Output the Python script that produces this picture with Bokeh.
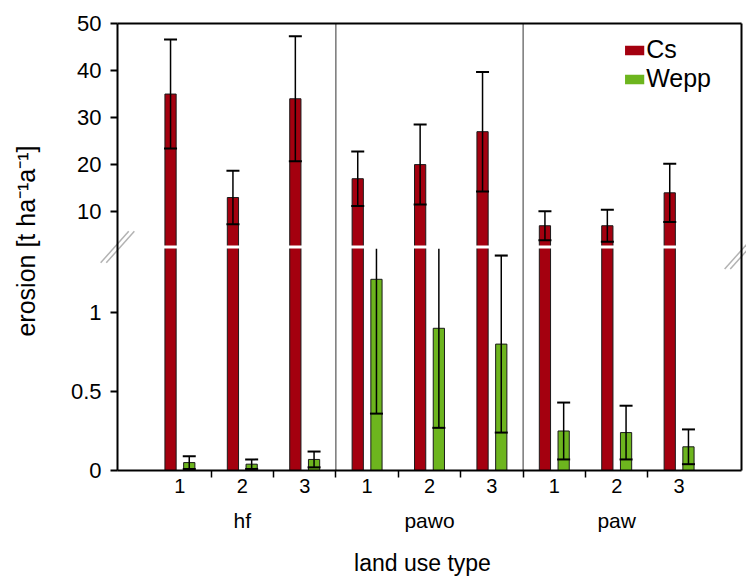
import numpy as np
from bokeh.plotting import figure
from bokeh.core.properties import value
from bokeh.models import (Range1d, LinearAxis, FixedTicker, PolyAnnotation, Label,
                          Legend, LegendItem)
from bokeh.embed import file_html
from bokeh.resources import INLINE

# land use types and the plots measured within each of them
land_use = ["hf", "pawo", "paw"]
plot_no = ["1", "2", "3"]

# mean erosion and standard deviation per plot [t ha-1 a-1]
cs_mean = [35.0, 13.0, 34.0, 17.0, 20.0, 27.0, 7.0, 7.0, 14.0]
cs_sd = [11.6, 5.7, 13.3, 5.8, 8.5, 12.7, 3.1, 3.4, 6.2]
wepp_mean = [0.05, 0.04, 0.07, 1.21, 0.90, 0.80, 0.25, 0.24, 0.15]
wepp_sd = [0.04, 0.03, 0.05, 0.85, 0.63, 0.56, 0.18, 0.17, 0.11]

low_ticks = [0, 0.5, 1]
high_ticks = [10, 20, 30, 40, 50]

RED = "#a4000f"
GREEN = "#6db51e"
FONT = "Liberation Sans"

# page layout (pixels): the plotting frame fills the page and every axis is
# pinned inside it, so labels and break marks can sit anywhere
W, H = 746, 578
SPINE_X, UNIT_X = 117, 62.4          # left spine position, width of one plot slot
ZERO_Y, LOW_TOP_Y = 470, 248         # lower segment: 0 .. LOW_MAX
HIGH_BOTTOM_Y, TOP_Y = 245, 23       # upper segment: HIGH_MIN .. HIGH_MAX

# broken y axis
LOW_MAX, HIGH_MIN, HIGH_MAX = 1.405, 2.8, 50.0
low_scale = (ZERO_Y - LOW_TOP_Y) / LOW_MAX
high_scale = (HIGH_BOTTOM_Y - TOP_Y) / (HIGH_MAX - HIGH_MIN)


def row(px):
    """Lower-segment value found at a given pixel row."""
    return (ZERO_Y - px) / low_scale


def to_low(v):
    """Express a value of the upper segment in lower-segment units."""
    return float(row(HIGH_BOTTOM_Y - (v - HIGH_MIN) * high_scale))


n = len(cs_mean)
idx = np.arange(n, dtype=float)
cs, cs_e = np.array(cs_mean), np.array(cs_sd)
wp, wp_e = np.array(wepp_mean), np.array(wepp_sd)

X0, X1 = -1.0, float(n)              # data area between the spines
p = figure(width=W, height=H, output_backend="svg", toolbar_location=None,
           x_range=Range1d(X0 - SPINE_X / UNIT_X, X0 + (W - SPINE_X) / UNIT_X),
           y_range=Range1d(row(H), row(0)),
           x_axis_type=None, y_axis_type=None,
           min_border_left=0, min_border_right=0, min_border_top=0, min_border_bottom=0)
p.extra_y_ranges = {"high": Range1d(HIGH_MIN - (H - HIGH_BOTTOM_Y) / high_scale,
                                    HIGH_MAX + TOP_Y / high_scale)}
p.outline_line_color = None
p.background_fill_color = "white"
p.border_fill_color = "white"

top_low = to_low(HIGH_MAX)
gap_low = (LOW_MAX + to_low(HIGH_MIN)) / 2
gap_high = HIGH_MIN - (row(HIGH_BOTTOM_Y) - gap_low) * low_scale / high_scale

x_cs = idx - 0.15
x_wp = idx + 0.15
bar = dict(width=0.18, line_color="#1a1a1a", line_width=1)

# Cs bars cross the break: lower piece and upper piece
p.vbar(x=x_cs, bottom=0, top=np.minimum(cs, gap_low), fill_color=RED, **bar)
p.vbar(x=x_cs, bottom=gap_high, top=cs, fill_color=RED, y_range_name="high", **bar)
p.vbar(x=x_wp, bottom=0, top=wp, fill_color=GREEN, **bar)

# error bars
err = dict(line_color="black", line_width=1.5)
cap = dict(marker="dash", size=13, line_color="black", line_width=2)
p.segment(x0=x_cs, y0=cs - cs_e, x1=x_cs, y1=cs + cs_e, y_range_name="high", **err)
p.scatter(x=np.r_[x_cs, x_cs], y=np.r_[cs - cs_e, cs + cs_e], y_range_name="high", **cap)

w_lo = np.maximum(wp - wp_e, 0)
w_hi = wp + wp_e
p.segment(x0=x_wp, y0=w_lo, x1=x_wp, y1=np.minimum(w_hi, LOW_MAX), **err)
p.scatter(x=x_wp, y=w_lo, **cap)
inside = w_hi <= LOW_MAX
p.scatter(x=x_wp[inside], y=w_hi[inside], **cap)

# white band at the axis break
p.quad(left=X0, right=X1, bottom=LOW_MAX, top=to_low(HIGH_MIN),
       fill_color="white", line_color=None)

# separators between land use types
seps = [3 * k - 0.5 for k in range(1, len(land_use))]
p.segment(x0=seps, y0=0, x1=seps, y1=top_low, line_color="#333333", line_width=1)
# top and right spines
p.segment(x0=[X0, X1], y0=[top_low, 0], x1=[X1, X1], y1=[top_low, top_low],
          line_color="black", line_width=2)

# "//" break marks on both spines
for cx, cy in [(X0, gap_low), (X1, gap_low - 0.04)]:
    for s in (-1, 1):
        x0 = cx + s * 0.045
        p.add_layout(PolyAnnotation(xs=[x0 - 0.225, x0 + 0.225], ys=[cy - 0.1, cy + 0.1],
                                    fill_color=None, line_color="black", line_width=1.5))

# y axis carrying the ticks of both segments, pinned to the left spine
ticks = [float(t) for t in low_ticks] + [to_low(v) for v in high_ticks]
labels = {t: f"{v:g}" for t, v in zip(ticks, low_ticks + high_ticks)}
yax = LinearAxis(ticker=FixedTicker(ticks=ticks, minor_ticks=[]),
                 major_label_overrides=labels, fixed_location=X0, bounds=(0, top_low))
yax.axis_line_width = 2
yax.major_tick_out = 7
yax.major_tick_in = 0
yax.major_tick_line_width = 2
yax.major_label_standoff = 9
yax.major_label_text_font = FONT
yax.major_label_text_font_size = "22px"
yax.major_label_text_color = "black"
p.add_layout(yax, "left")

p.add_layout(Label(x=X0, y=gap_low, x_offset=-92, y_offset=6,
                   text="erosion [t ha\u207b\u00b9a\u207b\u00b9]", angle=90, angle_units="deg",
                   text_align="center", text_baseline="middle", text_font=FONT,
                   text_font_size="25px", text_color="black"))

# plot numbers with ticks between them, pinned to y=0
xax = LinearAxis(ticker=FixedTicker(ticks=list(idx), minor_ticks=list(idx[:-1] + 0.5)),
                 major_label_overrides={float(i): plot_no[int(i) % 3] for i in idx},
                 fixed_location=0, bounds=(X0, X1))
xax.axis_line_width = 2
xax.major_tick_out = 0
xax.major_tick_in = 0
xax.minor_tick_out = 7
xax.minor_tick_in = 0
xax.minor_tick_line_width = 1.5
xax.major_label_standoff = 1
xax.major_label_text_font = FONT
xax.major_label_text_font_size = "20px"
xax.major_label_text_color = "black"
p.add_layout(xax, "below")

# land use type names under each group, and the x-axis title
p.text(x=[3.0 * k + 1 for k in range(len(land_use))], y=row(520), text=land_use,
       text_font=value(FONT), text_font_size="21px", text_color="black",
       text_align="center", text_baseline="middle")
p.add_layout(Label(x=float(idx.mean()), y=row(562), x_offset=-7, text="land use type",
                   text_align="center", text_baseline="middle", text_font=FONT,
                   text_font_size="23px", text_color="black"))

# legend keys without outlines (one hidden point each)
cs_key = p.vbar(x=[np.nan], top=[np.nan], width=0.18, fill_color=RED, line_color=None)
wp_key = p.vbar(x=[np.nan], top=[np.nan], width=0.18, fill_color=GREEN, line_color=None)
legend = Legend(items=[LegendItem(label="Cs", renderers=[cs_key]),
                       LegendItem(label="Wepp", renderers=[wp_key])],
                location="top_right", border_line_color=None, background_fill_alpha=0,
                label_text_font=FONT, label_text_font_size="25px",
                label_text_color="black",
                glyph_width=24, glyph_height=12, label_standoff=0,
                label_width=60, spacing=-4, padding=0, margin=35)
p.add_layout(legend)

open("out.html", "w").write(file_html(p, INLINE))
